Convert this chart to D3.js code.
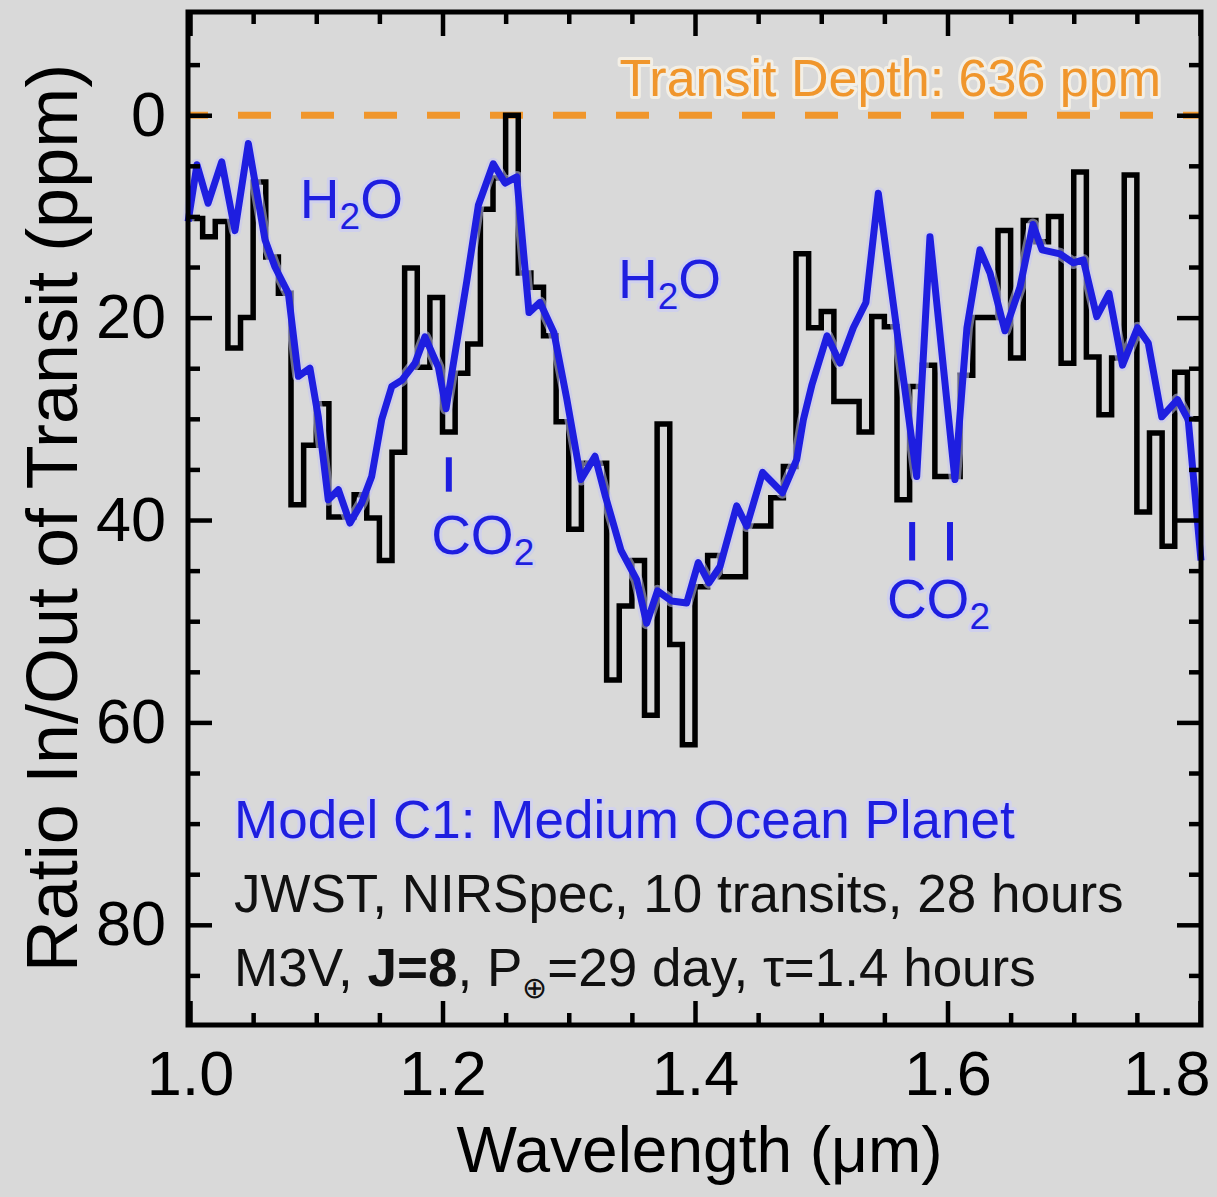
<!DOCTYPE html>
<html>
<head>
<meta charset="utf-8">
<script src="https://cdn.jsdelivr.net/npm/d3@7"></script>
<style>
  body { margin: 0; background: #d9d9d9; }
  svg { display: block; font-family: "Liberation Sans", Arial, Helvetica, sans-serif; }
</style>
</head>
<body>
<div id="chart"></div>
<script>
var width = 1217, height = 1197;

// binned spectrum (0.01 um bins), depth below transit depth in ppm
var binStart = [1.00, 1.01, 1.02, 1.03, 1.04, 1.05, 1.06, 1.07, 1.08, 1.09,
                1.10, 1.11, 1.12, 1.13, 1.14, 1.15, 1.16, 1.17, 1.18, 1.19,
                1.20, 1.21, 1.22, 1.23, 1.24, 1.25, 1.26, 1.27, 1.28, 1.29,
                1.30, 1.31, 1.32, 1.33, 1.34, 1.35, 1.36, 1.37, 1.38, 1.39,
                1.40, 1.41, 1.42, 1.43, 1.44, 1.45, 1.46, 1.47, 1.48, 1.49,
                1.50, 1.51, 1.52, 1.53, 1.54, 1.55, 1.56, 1.57, 1.58, 1.59,
                1.60, 1.61, 1.62, 1.63, 1.64, 1.65, 1.66, 1.67, 1.68, 1.69,
                1.70, 1.71, 1.72, 1.73, 1.74, 1.75, 1.76, 1.77, 1.78, 1.79];
var binDepth = [10.2, 12.0, 10.5, 23.0, 20.0, 6.6, 14.0, 17.6, 38.5, 32.6,
                28.5, 39.7, 39.7, 37.5, 39.8, 44.0, 33.3, 15.1, 24.9, 18.0,
                31.3, 25.5, 22.6, 9.3, 6.2, 0.0, 15.6, 17.0, 21.8, 30.3,
                40.9, 34.4, 34.4, 55.8, 48.5, 44.0, 59.3, 30.5, 52.3, 62.2,
                46.6, 43.5, 45.6, 45.6, 40.6, 40.6, 37.8, 34.7, 13.7, 21.0,
                19.4, 28.3, 28.3, 31.3, 19.9, 20.9, 38.0, 26.8, 24.7, 35.7,
                35.7, 25.7, 20.0, 20.0, 11.4, 24.0, 10.4, 12.5, 10.0, 24.5,
                5.6, 23.9, 29.6, 24.0, 5.9, 39.2, 31.4, 42.6, 25.4, 30.0];
var binEnd = 1.80;

// model C1 spectrum
var modelWave = [0.9985, 1.0055, 1.0143, 1.0251, 1.0356, 1.0462, 1.0594, 1.0673, 1.0779, 1.0858,
                 1.0950, 1.1016, 1.1095, 1.1175, 1.1267, 1.1360, 1.1439, 1.1518, 1.1598, 1.1677,
                 1.1782, 1.1861, 1.1967, 1.2028, 1.2192, 1.2284, 1.2402, 1.2495, 1.2588, 1.2685,
                 1.2772, 1.2883, 1.2984, 1.3097, 1.3208, 1.3287, 1.3414, 1.3538, 1.3617, 1.3703,
                 1.3814, 1.3934, 1.4026, 1.4111, 1.4198, 1.4330, 1.4410, 1.4535, 1.4693, 1.4806,
                 1.4858, 1.4927, 1.5046, 1.5149, 1.5254, 1.5354, 1.5452, 1.5756, 1.5861, 1.6059,
                 1.6125, 1.6154, 1.6257, 1.6337, 1.6455, 1.6574, 1.6677, 1.6749, 1.6891, 1.6996,
                 1.7076, 1.7182, 1.7279, 1.7386, 1.7505, 1.7590, 1.7697, 1.7822, 1.7907, 1.8008];
var modelDepth = [10.5, 4.9, 8.7, 4.6, 11.4, 2.8, 12.3, 15.0, 17.6, 25.8,
                  25.0, 29.8, 38.0, 37.0, 40.3, 38.3, 35.7, 30.1, 26.8, 26.2,
                  24.5, 21.9, 24.9, 29.0, 16.4, 8.9, 4.8, 6.7, 6.1, 19.5,
                  18.5, 21.5, 28.0, 36.0, 33.7, 37.5, 43.0, 45.9, 50.2, 47.0,
                  48.0, 48.2, 44.2, 46.2, 44.6, 38.6, 40.6, 35.3, 37.3, 34.0,
                  30.1, 26.6, 21.8, 24.5, 21.0, 18.5, 7.7, 35.7, 12.0, 36.0,
                  25.5, 21.0, 13.3, 15.6, 21.3, 17.0, 10.8, 13.3, 13.7, 14.6,
                  14.3, 19.9, 17.6, 24.7, 21.0, 22.5, 29.8, 28.1, 30.1, 44.0];

var xTicks = [1.0, 1.2, 1.4, 1.6, 1.8];
var xMinor = [1.05, 1.1, 1.15, 1.25, 1.3, 1.35, 1.45, 1.5, 1.55, 1.65, 1.7, 1.75];
var yTicks = [0, 20, 40, 60, 80];
var yMinor = [-5, 5, 10, 15, 25, 30, 35, 45, 50, 55, 65, 70, 75, 85];
var co2Lines = [1.205, 1.572, 1.602];

var blue = "#1e1ee0", orange = "#f0962c";

var svg = d3.select("#chart").append("svg")
  .attr("width", width)
  .attr("height", height);

svg.append("rect").attr("width", width).attr("height", height).attr("fill", "#d9d9d9");

var x = d3.scaleLinear().domain([0.9984, 1.8008]).range([188, 1201]);
var y = d3.scaleLinear().domain([-10.2, 89.9]).range([12, 1025]);

var plot = svg.append("g");

// transit depth reference line
plot.append("line")
  .attr("x1", x.range()[0]).attr("x2", x.range()[1])
  .attr("y1", y(0)).attr("y2", y(0))
  .attr("stroke", orange)
  .attr("stroke-width", 7)
  .attr("stroke-dasharray", "33,30")
  .attr("stroke-dashoffset", 13);

// binned data as steps
var steps = binStart.map(function(w, i) { return [w, binDepth[i]]; });
steps.push([binEnd, binDepth[binDepth.length - 1]]);

plot.append("path")
  .datum(steps)
  .attr("fill", "none")
  .attr("stroke", "#000")
  .attr("stroke-width", 5.5)
  .attr("stroke-linejoin", "miter")
  .attr("d", d3.line()
    .curve(d3.curveStepAfter)
    .x(function(d) { return x(d[0]); })
    .y(function(d) { return y(d[1]); }));

// model line
var model = modelWave.map(function(w, i) { return [w, modelDepth[i]]; });
var modelLine = d3.line().x(function(d) { return x(d[0]); }).y(function(d) { return y(d[1]); });
plot.append("path")
  .datum(model)
  .attr("fill", "none")
  .attr("stroke", "#c6c6f2")
  .attr("stroke-width", 12)
  .attr("stroke-linejoin", "round")
  .attr("opacity", 0.55)
  .attr("d", modelLine);
plot.append("path")
  .datum(model)
  .attr("fill", "none")
  .attr("stroke", blue)
  .attr("stroke-width", 7)
  .attr("stroke-linejoin", "round")
  .attr("d", modelLine);

// axes: ticks inward on all four sides
function styleAxis(g) {
  g.select(".domain").remove();
  g.selectAll(".tick line").attr("stroke", "#000").attr("stroke-width", 4.5);
  g.selectAll(".tick text").attr("fill", "#000").style("font-size", "63px")
    .style("font-family", "\"Liberation Sans\", Arial, sans-serif");
}

svg.append("g").attr("transform", "translate(" + x.range()[0] + ",0)")
  .call(d3.axisLeft(y).tickValues(yTicks).tickSize(-24).tickPadding(22).tickFormat(d3.format("d")))
  .call(styleAxis);
svg.append("g").attr("transform", "translate(" + x.range()[0] + ",0)")
  .call(d3.axisLeft(y).tickValues(yMinor).tickSize(-12).tickFormat(""))
  .call(styleAxis);
svg.append("g").attr("transform", "translate(" + x.range()[1] + ",0)")
  .call(d3.axisRight(y).tickValues(yTicks).tickSize(-24).tickFormat(""))
  .call(styleAxis);
svg.append("g").attr("transform", "translate(" + x.range()[1] + ",0)")
  .call(d3.axisRight(y).tickValues(yMinor).tickSize(-12).tickFormat(""))
  .call(styleAxis);

var xAxisG = svg.append("g").attr("transform", "translate(0," + y.range()[1] + ")")
  .call(d3.axisBottom(x).tickValues(xTicks).tickSize(-24).tickPadding(25).tickFormat(d3.format(".1f")))
  .call(styleAxis);
// last label sits flush with the right edge, as in the original
xAxisG.selectAll(".tick text")
  .filter(function(d) { return d === 1.8; })
  .attr("text-anchor", "end")
  .attr("x", 10);
svg.append("g").attr("transform", "translate(0," + y.range()[1] + ")")
  .call(d3.axisBottom(x).tickValues(xMinor).tickSize(-12).tickFormat(""))
  .call(styleAxis);
svg.append("g").attr("transform", "translate(0," + y.range()[0] + ")")
  .call(d3.axisTop(x).tickValues(xTicks).tickSize(-24).tickFormat(""))
  .call(styleAxis);
svg.append("g").attr("transform", "translate(0," + y.range()[0] + ")")
  .call(d3.axisTop(x).tickValues(xMinor).tickSize(-12).tickFormat(""))
  .call(styleAxis);

// frame
svg.append("rect")
  .attr("x", x.range()[0]).attr("y", y.range()[0])
  .attr("width", x.range()[1] - x.range()[0])
  .attr("height", y.range()[1] - y.range()[0])
  .attr("fill", "none")
  .attr("stroke", "#000")
  .attr("stroke-width", 5);

// axis titles
svg.append("text")
  .attr("x", (x.range()[0] + x.range()[1]) / 2 + 5)
  .attr("y", 1172)
  .attr("text-anchor", "middle")
  .style("font-size", "64px")
  .text("Wavelength (\u03bcm)");

svg.append("text")
  .attr("transform", "translate(77,518) rotate(-90)")
  .attr("text-anchor", "middle")
  .style("font-size", "72px")
  .text("Ratio In/Out of Transit (ppm)");

// annotations
function halo(sel, c) {
  sel.attr("stroke", c).attr("stroke-width", 6).attr("stroke-linejoin", "round")
    .attr("paint-order", "stroke");
}

var td = svg.append("text")
  .attr("x", x(1.8008) - 40).attr("y", 96)
  .attr("text-anchor", "end")
  .attr("fill", orange)
  .style("font-size", "52px")
  .text("Transit Depth: 636 ppm");
halo(td, "#f3efe6");

function molecule(wl, d, main, sub, tail) {
  var t = svg.append("text")
    .attr("x", x(wl)).attr("y", y(d))
    .attr("fill", blue)
    .style("font-size", "55px");
  t.append("tspan").text(main);
  t.append("tspan").attr("dy", 11).style("font-size", "37px").text(sub);
  if (tail) t.append("tspan").attr("dy", -11).style("font-size", "55px").text(tail);
  halo(t, "#cfd0ec");
}
molecule(1.087, 10.2, "H", "2", "O");
molecule(1.339, 18.1, "H", "2", "O");
molecule(1.191, 43.4, "CO", "2", null);
molecule(1.552, 49.7, "CO", "2", null);

plot.append("g").selectAll("line")
  .data(co2Lines)
  .join("line")
  .attr("x1", function(d) { return x(d); })
  .attr("x2", function(d) { return x(d); })
  .attr("y1", function(d) { return d < 1.4 ? y(33.8) : y(40.2); })
  .attr("y2", function(d) { return d < 1.4 ? y(37.2) : y(44.0); })
  .attr("stroke", blue)
  .attr("stroke-width", 6);

var info = svg.append("g").style("font-size", "53px");
var m = info.append("text").attr("x", 234).attr("y", 838).attr("fill", blue)
  .text("Model C1: Medium Ocean Planet");
halo(m, "#d2d2ee");
info.append("text").attr("x", 234).attr("y", 912).attr("fill", "#111")
  .text("JWST, NIRSpec, 10 transits, 28 hours");
var l3 = info.append("text").attr("x", 234).attr("y", 986).attr("fill", "#111");
l3.append("tspan").text("M3V, ");
l3.append("tspan").style("font-weight", "bold").text("J=8");
l3.append("tspan").text(", P");
l3.append("tspan").attr("dy", 12).style("font-size", "30px").text("\u2295");
l3.append("tspan").attr("dy", -12).text("=29 day, \u03c4=1.4 hours");
</script>
</body>
</html>
